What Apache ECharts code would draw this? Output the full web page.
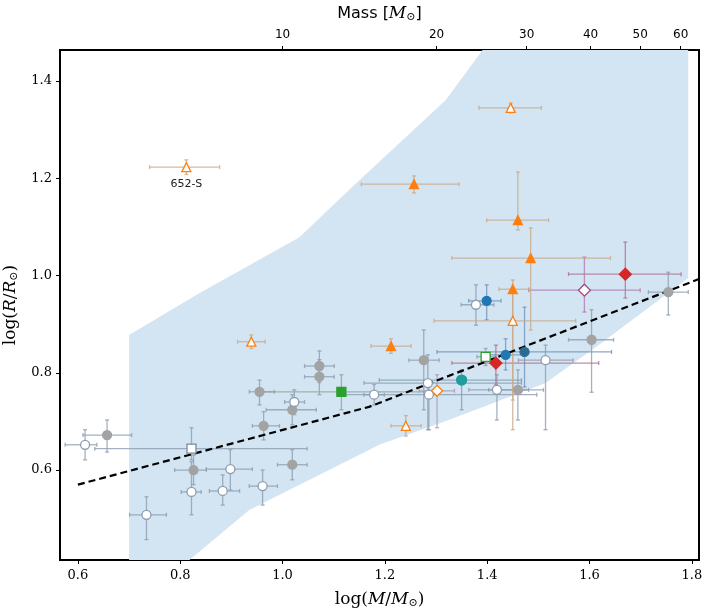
<!DOCTYPE html>
<html>
<head>
<meta charset="utf-8">
<script src="https://cdn.jsdelivr.net/npm/echarts@6/dist/echarts.min.js"></script>
<style>
  html, body { margin: 0; padding: 0; background: #fff; }
  #main { width: 707px; height: 613px; }
</style>
</head>
<body>
<div id="main"></div>
<script>
// each row: [logM, logR, xLow, xHigh, yLow, yHigh]
var greyFilled = [
  [0.657, 0.672, 0.610, 0.705, 0.637, 0.703],
  [0.826, 0.600, 0.789, 0.851, 0.570, 0.631],
  [1.019, 0.611, 0.990, 1.048, 0.580, 0.642],
  [0.963, 0.691, 0.941, 0.994, 0.662, 0.720],
  [1.019, 0.724, 0.968, 1.066, 0.693, 0.755],
  [0.955, 0.761, 0.935, 0.984, 0.734, 0.785],
  [1.072, 0.792, 1.043, 1.101, 0.755, 0.827],
  [1.072, 0.814, 1.043, 1.101, 0.780, 0.845],
  [1.276, 0.826, 1.247, 1.306, 0.724, 0.888],
  [1.460, 0.765, 1.403, 1.510, 0.703, 0.806],
  [1.604, 0.868, 1.559, 1.647, 0.760, 0.930],
  [1.754, 0.966, 1.715, 1.793, 0.919, 1.007]
];
var greyOpen = [
  [0.614, 0.652, 0.575, 0.637, 0.621, 0.683],
  [0.822, 0.555, 0.802, 0.841, 0.508, 0.617],
  [0.898, 0.602, 0.851, 0.941, 0.559, 0.642],
  [0.883, 0.557, 0.857, 0.916, 0.528, 0.590],
  [0.961, 0.567, 0.935, 0.990, 0.528, 0.600],
  [0.734, 0.508, 0.701, 0.773, 0.457, 0.545],
  [1.023, 0.740, 1.004, 1.043, 0.714, 0.765],
  [1.179, 0.755, 1.159, 1.199, 0.734, 0.776],
  [1.284, 0.779, 1.159, 1.467, 0.683, 0.837],
  [1.286, 0.755, 1.111, 1.497, 0.683, 0.786],
  [1.419, 0.765, 1.364, 1.481, 0.703, 0.796],
  [1.514, 0.826, 1.461, 1.568, 0.683, 0.857],
  [1.378, 0.940, 1.349, 1.413, 0.898, 0.981]
];
var greySquare = [
  [0.822, 0.644, 0.633, 1.048, 0.621, 0.687]
];
var blueCircles = [
  [1.399, 0.948, 1.364, 1.427, 0.909, 0.981],
  [1.436, 0.837, 1.403, 1.470, 0.806, 0.870]
];
var darkBlueCircles = [
  [1.473, 0.843, 1.302, 1.643, 0.771, 0.935]
];
var tealCircles = [
  [1.350, 0.785, 1.189, 1.467, 0.724, 0.806]
];
var greenSquares = [
  [1.115, 0.761, 0.951, 1.300, 0.724, 0.796]
];
var greenOpenSquares = [
  [1.397, 0.833, 1.380, 1.415, 0.815, 0.850]
];
var redDiamonds = [
  [1.417, 0.820, 1.331, 1.618, 0.775, 0.857],
  [1.670, 1.003, 1.559, 1.779, 0.954, 1.069]
];
var purpleOpenDiamonds = [
  [1.590, 0.970, 1.481, 1.699, 0.925, 1.038]
];
var orangeOpenDiamonds = [
  [1.302, 0.763, 1.267, 1.336, 0.687, 0.796]
];
var orangeOpenTriangles = [
  [0.812, 1.223, 0.740, 0.877, 1.208, 1.238],
  [1.446, 1.345, 1.384, 1.506, 1.335, 1.355],
  [0.939, 0.864, 0.912, 0.966, 0.850, 0.878],
  [1.450, 0.907, 1.296, 1.573, 0.744, 0.970],
  [1.241, 0.691, 1.212, 1.271, 0.670, 0.712]
];
var orangeFilledTriangles = [
  [1.257, 1.188, 1.154, 1.345, 1.170, 1.205],
  [1.460, 1.114, 1.399, 1.520, 1.094, 1.213],
  [1.485, 1.036, 1.331, 1.641, 0.888, 1.098],
  [1.450, 0.972, 1.423, 1.481, 0.683, 0.991],
  [1.212, 0.855, 1.173, 1.251, 0.840, 0.870]
];

// shaded region outline
var regionX = [0.700, 0.700, 0.838, 1.033, 1.136, 1.319, 1.391, 1.793, 1.793, 1.618, 1.514, 1.325, 1.189, 0.935, 0.818];
var regionY = [0.415, 0.878, 0.964, 1.079, 1.182, 1.361, 1.464, 1.464, 0.995, 0.857, 0.779, 0.703, 0.652, 0.518, 0.415];

// dashed relation
var lineX = [0.600, 1.169, 1.814];
var lineY = [0.570, 0.730, 0.993];

var xTicks = [0.6, 0.8, 1.0, 1.2, 1.4, 1.6, 1.8];
var yTicks = [0.6, 0.8, 1.0, 1.2, 1.4];
var massTicks = [10, 20, 30, 40, 50, 60];

var myChart = echarts.init(document.getElementById('main'));
var serif = "'DejaVu Serif', 'Liberation Serif', serif";

function errBars(rows, color) {
  return {
    type: 'custom',
    silent: true,
    z: 3,
    encode: { x: 0, y: 1 },
    data: rows,
    renderItem: function (params, api) {
      var x = api.value(0), y = api.value(1);
      var a = api.coord([api.value(2), y]), b = api.coord([api.value(3), y]);
      var c = api.coord([x, api.value(4)]), d = api.coord([x, api.value(5)]);
      var st = { stroke: color, lineWidth: 1.3, opacity: 0.8 };
      var cap = 2;
      return {
        type: 'group',
        children: [
          { type: 'line', shape: { x1: a[0], y1: a[1], x2: b[0], y2: b[1] }, style: st },
          { type: 'line', shape: { x1: c[0], y1: c[1], x2: d[0], y2: d[1] }, style: st },
          { type: 'line', shape: { x1: a[0], y1: a[1] - cap, x2: a[0], y2: a[1] + cap }, style: st },
          { type: 'line', shape: { x1: b[0], y1: b[1] - cap, x2: b[0], y2: b[1] + cap }, style: st },
          { type: 'line', shape: { x1: c[0] - cap, y1: c[1], x2: c[0] + cap, y2: c[1] }, style: st },
          { type: 'line', shape: { x1: d[0] - cap, y1: d[1], x2: d[0] + cap, y2: d[1] }, style: st }
        ]
      };
    }
  };
}

function marks(rows, symbol, size, fill, edge) {
  return {
    type: 'scatter',
    z: 5,
    symbol: symbol,
    symbolSize: size,
    data: rows.map(function (r) { return [r[0], r[1]]; }),
    itemStyle: { color: fill, borderColor: edge, borderWidth: 1.3, opacity: 1 }
  };
}

var regionPts = regionX.map(function (x, i) { return [x, regionY[i]]; });

var series = [
  {
    type: 'custom',
    silent: true,
    z: 1,
    encode: { x: 0, y: 1 },
    data: regionPts,
    renderItem: function (params, api) {
      if (params.dataIndex !== 0) return;
      var pts = regionPts.map(function (p) { return api.coord(p); });
      return { type: 'polygon', shape: { points: pts }, style: { fill: '#d3e5f2' } };
    }
  },
  {
    type: 'line',
    z: 4,
    symbol: 'none',
    data: lineX.map(function (x, i) { return [x, lineY[i]]; }),
    lineStyle: { color: '#000', width: 2.2, type: [7, 4] }
  },
  errBars(greyFilled, '#8c9db0'),
  errBars(greyOpen, '#8c9db0'),
  errBars(greySquare, '#8c9db0'),
  errBars(blueCircles, '#6f93b8'),
  errBars(darkBlueCircles, '#6f93b8'),
  errBars(tealCircles, '#7f9fb0'),
  errBars(greenSquares, '#8fa69a'),
  errBars(greenOpenSquares, '#8fa69a'),
  errBars(redDiamonds, '#b07090'),
  errBars(purpleOpenDiamonds, '#b37ab3'),
  errBars(orangeOpenDiamonds, '#a99bb0'),
  errBars(orangeOpenTriangles, '#c9a98a'),
  errBars(orangeFilledTriangles, '#c9a98a'),
  marks(greyFilled, 'circle', 9, '#a3a3a3', '#a3a3a3'),
  marks(greyOpen, 'circle', 9, '#ffffff', '#8c9db0'),
  marks(greySquare, 'rect', 9, '#ffffff', '#7a8a98'),
  marks(blueCircles, 'circle', 9, '#1f77b4', '#1f77b4'),
  marks(darkBlueCircles, 'circle', 9, '#2b6a90', '#2b6a90'),
  marks(tealCircles, 'circle', 10, '#1f9c9c', '#1f9c9c'),
  marks(greenSquares, 'rect', 9, '#2ca02c', '#2ca02c'),
  marks(greenOpenSquares, 'rect', 9, '#ffffff', '#2ca02c'),
  marks(redDiamonds, 'diamond', 12, '#d62728', '#d62728'),
  marks(purpleOpenDiamonds, 'diamond', 12, '#ffffff', '#9c4a7c'),
  marks(orangeOpenDiamonds, 'diamond', 11, '#ffffff', '#ff7f0e'),
  marks(orangeOpenTriangles, 'triangle', 9, '#ffffff', '#ff7f0e'),
  marks(orangeFilledTriangles, 'triangle', 9, '#ff7f0e', '#ff7f0e')
];

// 652-S label
series[series.length - 2].data[0] = {
  value: [orangeOpenTriangles[0][0], orangeOpenTriangles[0][1]],
  label: { show: true, position: 'bottom', distance: 6, formatter: '652-S', color: '#222', fontSize: 11, fontFamily: 'DejaVu Sans, sans-serif' }
};

var nameRich = {
  i: { fontFamily: serif, fontStyle: 'italic', fontSize: 17, color: '#000' },
  s: { fontFamily: serif, fontSize: 11, color: '#000', padding: [8, 0, 0, 0] }
};

var option = {
  animation: false,
  grid: { left: 60, right: 8, top: 50, bottom: 53, containLabel: false, outerBoundsMode: 'none',
    show: true, borderColor: '#000', borderWidth: 2, backgroundColor: 'transparent' },
  xAxis: [
    {
      type: 'value', position: 'bottom', min: 0.565, max: 1.814,
      axisLine: { show: true, onZero: false, lineStyle: { color: '#000', width: 2 } },
      axisTick: { show: true, length: 4, customValues: xTicks, lineStyle: { color: '#000' } },
      axisLabel: { customValues: xTicks, color: '#000', fontFamily: serif, fontSize: 13, margin: 9,
        formatter: function (v) { return v.toFixed(1); } },
      splitLine: { show: false },
      name: 'log({i|M}/{i|M}{s|⊙})', nameLocation: 'middle', nameGap: 30,
      nameTextStyle: { fontFamily: serif, fontSize: 17, color: '#000', rich: nameRich }
    },
    {
      type: 'value', position: 'top', min: 0.565, max: 1.814,
      axisLine: { show: true, onZero: false, lineStyle: { color: '#000', width: 2 } },
      axisTick: { show: true, length: 4, customValues: massTicks.map(function (m) { return Math.log10(m); }), lineStyle: { color: '#000' } },
      axisLabel: { customValues: massTicks.map(function (m) { return Math.log10(m); }), color: '#000',
        fontFamily: 'DejaVu Sans, sans-serif', fontSize: 12, margin: 9,
        formatter: function (v) { return String(Math.round(Math.pow(10, v))); } },
      splitLine: { show: false },
      name: 'Mass [{i|M}{s|⊙}]', nameLocation: 'middle', nameGap: 27,
      nameTextStyle: { fontFamily: 'DejaVu Sans, sans-serif', fontSize: 16, color: '#000', rich: nameRich }
    }
  ],
  yAxis: {
    type: 'value', min: 0.415, max: 1.464,
    axisLine: { show: true, onZero: false, lineStyle: { color: '#000', width: 2 } },
    axisTick: { show: true, length: 4, customValues: yTicks, lineStyle: { color: '#000' } },
    axisLabel: { customValues: yTicks, color: '#000', fontFamily: serif, fontSize: 13, margin: 8,
      formatter: function (v) { return v.toFixed(1); } },
    splitLine: { show: false },
    name: 'log({i|R}/{i|R}{s|⊙})', nameLocation: 'middle', nameGap: 40, nameRotate: 90,
    nameTextStyle: { fontFamily: serif, fontSize: 17, color: '#000', rich: nameRich }
  },
  series: series
};
myChart.setOption(option);
</script>
</body>
</html>
